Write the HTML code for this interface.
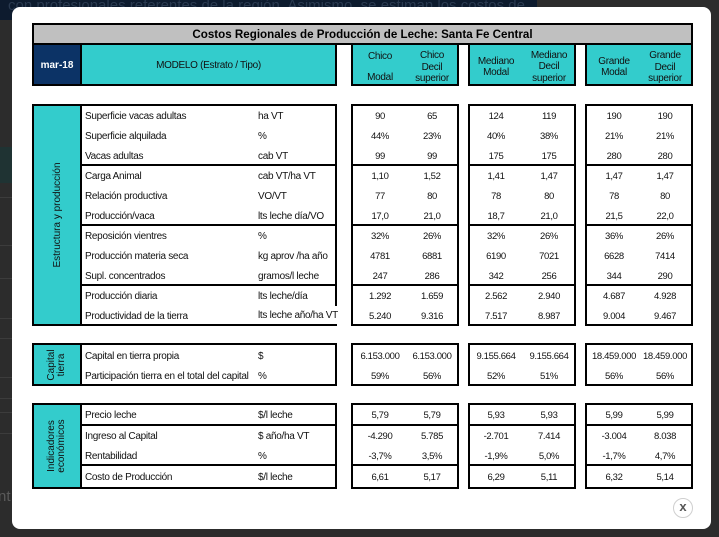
<!DOCTYPE html>
<html><head><meta charset="utf-8">
<style>
*{margin:0;padding:0;box-sizing:border-box}
html,body{width:719px;height:537px;overflow:hidden;background:#2c2c2c;position:relative;font-family:"Liberation Sans",sans-serif}
.a{position:absolute}
.box{position:absolute;border:2px solid #000}
.hl{position:absolute;height:2px;background:#000}
.vl{position:absolute;width:2px;background:#000}
.t{position:absolute;font-size:10px;letter-spacing:-0.3px;line-height:20px;white-space:nowrap;color:#111;margin-top:1px}
.n{position:absolute;font-size:9.5px;letter-spacing:-0.35px;line-height:20px;white-space:nowrap;width:60px;text-align:center;color:#111;margin-top:1px}
.c1{left:350px}.c2{left:402px}.c3{left:466px}.c4{left:519px}.c5{left:584px}.c6{left:635px}
.u{left:258px}.l{left:85px}
.h{position:absolute;font-size:10px;letter-spacing:-0.3px;line-height:11px;width:60px;text-align:center;white-space:nowrap;color:#111;margin-top:1px}
.cy{background:#33cccc}
.rot{position:absolute;display:flex;align-items:center;justify-content:center;text-align:center;transform:rotate(-90deg);font-size:10px;line-height:10px;color:#111;white-space:nowrap}
.fl{position:absolute;left:0;width:12px;height:1px;background:#3c3c3c}
</style></head><body>

<!-- background page -->
<div class="a" style="left:0;top:0;width:537px;height:20px;background:#0d1b2e;overflow:hidden">
  <div class="a" style="left:8px;top:-3px;font-size:15px;color:#2a3a50;white-space:nowrap">con profesionales referentes de la región. Asimismo, se estiman los costos de</div>
</div>
<div class="a" style="left:0;top:147px;width:12px;height:36px;background:#1f3333"></div>
<div class="fl" style="top:197px"></div>
<div class="fl" style="top:245px"></div>
<div class="fl" style="top:278px"></div>
<div class="fl" style="top:318px"></div>
<div class="fl" style="top:338px"></div>
<div class="fl" style="top:377px"></div>
<div class="fl" style="top:398px"></div>
<div class="fl" style="top:412px"></div>
<div class="fl" style="top:433px"></div>
<div class="a" style="left:-2px;top:488px;font-size:15px;color:#5a5a5a">nt</div>

<!-- modal -->
<div class="a" style="left:12px;top:7px;width:699px;height:522px;background:#fff;border-radius:8px"></div>

<!-- title -->
<div class="box" style="left:32px;top:23px;width:661px;height:22px;background:#c0c0c0"></div>
<div class="a" style="left:32px;top:26px;width:661px;line-height:18px;text-align:center;font-weight:bold;font-size:11.6px;color:#000;white-space:nowrap">Costos Regionales de Producción de Leche: Santa Fe Central</div>

<!-- header left -->
<div class="box cy" style="left:32px;top:43px;width:305px;height:43px"></div>
<div class="a" style="left:34px;top:45px;width:46px;height:39px;background:#0c3366"></div>
<div class="vl" style="left:80px;top:45px;height:39px"></div>
<div class="a" style="left:34px;top:46px;width:46px;line-height:39px;text-align:center;color:#fff;font-weight:bold;font-size:10px">mar-18</div>
<div class="a" style="left:82px;top:46px;width:253px;line-height:39px;text-align:center;font-size:10px;letter-spacing:-0.3px;color:#111">MODELO (Estrato / Tipo)</div>

<!-- header groups -->
<div class="box cy" style="left:351px;top:43px;width:108px;height:43px"></div>
<div class="box cy" style="left:468px;top:43px;width:108px;height:43px"></div>
<div class="box cy" style="left:585px;top:43px;width:108px;height:43px"></div>

<div class="h" style="left:350px;top:50px">Chico</div>
<div class="h" style="left:350px;top:70.5px">Modal</div>
<div class="h" style="left:402px;top:49px">Chico</div>
<div class="h" style="left:402px;top:60.5px">Decil</div>
<div class="h" style="left:402px;top:71.5px">superior</div>

<div class="h" style="left:466px;top:54.5px">Mediano</div>
<div class="h" style="left:466px;top:65.5px">Modal</div>
<div class="h" style="left:519px;top:48.5px">Mediano</div>
<div class="h" style="left:519px;top:60px">Decil</div>
<div class="h" style="left:519px;top:71.5px">superior</div>

<div class="h" style="left:584px;top:55px">Grande</div>
<div class="h" style="left:584px;top:65.5px">Modal</div>
<div class="h" style="left:635px;top:49px">Grande</div>
<div class="h" style="left:635px;top:60.5px">Decil</div>
<div class="h" style="left:635px;top:72px">superior</div>

<!-- SECTION 1 -->
<div class="box" style="left:32px;top:104px;width:305px;height:222px"></div>
<div class="a cy" style="left:34px;top:106px;width:46px;height:218px"></div>
<div class="vl" style="left:80px;top:106px;height:218px"></div>
<div class="hl" style="left:82px;top:164px;width:253px"></div>
<div class="hl" style="left:82px;top:224px;width:253px"></div>
<div class="hl" style="left:82px;top:284px;width:253px"></div>

<div class="box" style="left:351px;top:104px;width:108px;height:222px"></div>
<div class="box" style="left:468px;top:104px;width:108px;height:222px"></div>
<div class="box" style="left:585px;top:104px;width:108px;height:222px"></div>
<div class="hl" style="left:351px;top:164px;width:108px"></div>
<div class="hl" style="left:351px;top:224px;width:108px"></div>
<div class="hl" style="left:351px;top:284px;width:108px"></div>
<div class="hl" style="left:468px;top:164px;width:108px"></div>
<div class="hl" style="left:468px;top:224px;width:108px"></div>
<div class="hl" style="left:468px;top:284px;width:108px"></div>
<div class="hl" style="left:585px;top:164px;width:108px"></div>
<div class="hl" style="left:585px;top:224px;width:108px"></div>
<div class="hl" style="left:585px;top:284px;width:108px"></div>

<div class="rot" style="left:-51px;top:192px;width:218px;height:46px">Estructura y producción</div>

<!-- row 1 -->
<div class="t l" style="top:106px">Superficie vacas adultas</div><div class="t u" style="top:106px">ha VT</div>
<div class="n c1" style="top:106px">90</div><div class="n c2" style="top:106px">65</div><div class="n c3" style="top:106px">124</div><div class="n c4" style="top:106px">119</div><div class="n c5" style="top:106px">190</div><div class="n c6" style="top:106px">190</div>
<!-- row 2 -->
<div class="t l" style="top:126px">Superficie alquilada</div><div class="t u" style="top:126px">%</div>
<div class="n c1" style="top:126px">44%</div><div class="n c2" style="top:126px">23%</div><div class="n c3" style="top:126px">40%</div><div class="n c4" style="top:126px">38%</div><div class="n c5" style="top:126px">21%</div><div class="n c6" style="top:126px">21%</div>
<!-- row 3 -->
<div class="t l" style="top:146px">Vacas adultas</div><div class="t u" style="top:146px">cab VT</div>
<div class="n c1" style="top:146px">99</div><div class="n c2" style="top:146px">99</div><div class="n c3" style="top:146px">175</div><div class="n c4" style="top:146px">175</div><div class="n c5" style="top:146px">280</div><div class="n c6" style="top:146px">280</div>
<!-- row 4 -->
<div class="t l" style="top:166px">Carga Animal</div><div class="t u" style="top:166px">cab VT/ha VT</div>
<div class="n c1" style="top:166px">1,10</div><div class="n c2" style="top:166px">1,52</div><div class="n c3" style="top:166px">1,41</div><div class="n c4" style="top:166px">1,47</div><div class="n c5" style="top:166px">1,47</div><div class="n c6" style="top:166px">1,47</div>
<!-- row 5 -->
<div class="t l" style="top:186px">Relación productiva</div><div class="t u" style="top:186px">VO/VT</div>
<div class="n c1" style="top:186px">77</div><div class="n c2" style="top:186px">80</div><div class="n c3" style="top:186px">78</div><div class="n c4" style="top:186px">80</div><div class="n c5" style="top:186px">78</div><div class="n c6" style="top:186px">80</div>
<!-- row 6 -->
<div class="t l" style="top:206px">Producción/vaca</div><div class="t u" style="top:206px">lts leche día/VO</div>
<div class="n c1" style="top:206px">17,0</div><div class="n c2" style="top:206px">21,0</div><div class="n c3" style="top:206px">18,7</div><div class="n c4" style="top:206px">21,0</div><div class="n c5" style="top:206px">21,5</div><div class="n c6" style="top:206px">22,0</div>
<!-- row 7 -->
<div class="t l" style="top:226px">Reposición vientres</div><div class="t u" style="top:226px">%</div>
<div class="n c1" style="top:226px">32%</div><div class="n c2" style="top:226px">26%</div><div class="n c3" style="top:226px">32%</div><div class="n c4" style="top:226px">26%</div><div class="n c5" style="top:226px">36%</div><div class="n c6" style="top:226px">26%</div>
<!-- row 8 -->
<div class="t l" style="top:246px">Producción materia seca</div><div class="t u" style="top:246px">kg aprov /ha año</div>
<div class="n c1" style="top:246px">4781</div><div class="n c2" style="top:246px">6881</div><div class="n c3" style="top:246px">6190</div><div class="n c4" style="top:246px">7021</div><div class="n c5" style="top:246px">6628</div><div class="n c6" style="top:246px">7414</div>
<!-- row 9 -->
<div class="t l" style="top:266px">Supl. concentrados</div><div class="t u" style="top:266px">gramos/l leche</div>
<div class="n c1" style="top:266px">247</div><div class="n c2" style="top:266px">286</div><div class="n c3" style="top:266px">342</div><div class="n c4" style="top:266px">256</div><div class="n c5" style="top:266px">344</div><div class="n c6" style="top:266px">290</div>
<!-- row 10 -->
<div class="t l" style="top:286px">Producción diaria</div><div class="t u" style="top:286px">lts leche/día</div>
<div class="n c1" style="top:286px">1.292</div><div class="n c2" style="top:286px">1.659</div><div class="n c3" style="top:286px">2.562</div><div class="n c4" style="top:286px">2.940</div><div class="n c5" style="top:286px">4.687</div><div class="n c6" style="top:286px">4.928</div>
<!-- row 11 -->
<div class="t l" style="top:306px">Productividad de la tierra</div><div class="t u" style="top:306px;margin-top:0;line-height:18px;height:18px;padding-top:1px;background:#fff;padding-right:2px">lts leche año/ha VT</div>
<div class="n c1" style="top:306px">5.240</div><div class="n c2" style="top:306px">9.316</div><div class="n c3" style="top:306px">7.517</div><div class="n c4" style="top:306px">8.987</div><div class="n c5" style="top:306px">9.004</div><div class="n c6" style="top:306px">9.467</div>

<!-- SECTION 2 -->
<div class="box" style="left:32px;top:343px;width:305px;height:43px"></div>
<div class="a cy" style="left:34px;top:345px;width:46px;height:39px"></div>
<div class="vl" style="left:80px;top:345px;height:39px"></div>
<div class="box" style="left:351px;top:343px;width:108px;height:43px"></div>
<div class="box" style="left:468px;top:343px;width:108px;height:43px"></div>
<div class="box" style="left:585px;top:343px;width:108px;height:43px"></div>
<div class="rot" style="left:27px;top:341.5px;width:60px;height:46px">Capital<br>tierra</div>

<div class="t l" style="top:346px">Capital en tierra propia</div><div class="t u" style="top:346px">$</div>
<div class="n c1" style="top:346px">6.153.000</div><div class="n c2" style="top:346px">6.153.000</div><div class="n c3" style="top:346px">9.155.664</div><div class="n c4" style="top:346px">9.155.664</div><div class="n c5" style="top:346px">18.459.000</div><div class="n c6" style="top:346px">18.459.000</div>
<div class="t l" style="top:366px">Participación tierra en el total del capital</div><div class="t u" style="top:366px">%</div>
<div class="n c1" style="top:366px">59%</div><div class="n c2" style="top:366px">56%</div><div class="n c3" style="top:366px">52%</div><div class="n c4" style="top:366px">51%</div><div class="n c5" style="top:366px">56%</div><div class="n c6" style="top:366px">56%</div>

<!-- SECTION 3 -->
<div class="box" style="left:32px;top:403px;width:305px;height:86px"></div>
<div class="a cy" style="left:34px;top:405px;width:46px;height:82px"></div>
<div class="vl" style="left:80px;top:405px;height:82px"></div>
<div class="hl" style="left:82px;top:424px;width:253px"></div>
<div class="hl" style="left:82px;top:464px;width:253px"></div>
<div class="box" style="left:351px;top:403px;width:108px;height:86px"></div>
<div class="box" style="left:468px;top:403px;width:108px;height:86px"></div>
<div class="box" style="left:585px;top:403px;width:108px;height:86px"></div>
<div class="hl" style="left:351px;top:424px;width:108px"></div>
<div class="hl" style="left:351px;top:464px;width:108px"></div>
<div class="hl" style="left:468px;top:424px;width:108px"></div>
<div class="hl" style="left:468px;top:464px;width:108px"></div>
<div class="hl" style="left:585px;top:424px;width:108px"></div>
<div class="hl" style="left:585px;top:464px;width:108px"></div>
<div class="rot" style="left:16px;top:423px;width:82px;height:46px">Indicadores<br>económicos</div>

<div class="t l" style="top:405px">Precio leche</div><div class="t u" style="top:405px">$/l leche</div>
<div class="n c1" style="top:405px">5,79</div><div class="n c2" style="top:405px">5,79</div><div class="n c3" style="top:405px">5,93</div><div class="n c4" style="top:405px">5,93</div><div class="n c5" style="top:405px">5,99</div><div class="n c6" style="top:405px">5,99</div>
<div class="t l" style="top:426px">Ingreso al Capital</div><div class="t u" style="top:426px">$ año/ha VT</div>
<div class="n c1" style="top:426px">-4.290</div><div class="n c2" style="top:426px">5.785</div><div class="n c3" style="top:426px">-2.701</div><div class="n c4" style="top:426px">7.414</div><div class="n c5" style="top:426px">-3.004</div><div class="n c6" style="top:426px">8.038</div>
<div class="t l" style="top:446px">Rentabilidad</div><div class="t u" style="top:446px">%</div>
<div class="n c1" style="top:446px">-3,7%</div><div class="n c2" style="top:446px">3,5%</div><div class="n c3" style="top:446px">-1,9%</div><div class="n c4" style="top:446px">5,0%</div><div class="n c5" style="top:446px">-1,7%</div><div class="n c6" style="top:446px">4,7%</div>
<div class="t l" style="top:467px">Costo de Producción</div><div class="t u" style="top:467px">$/l leche</div>
<div class="n c1" style="top:467px">6,61</div><div class="n c2" style="top:467px">5,17</div><div class="n c3" style="top:467px">6,29</div><div class="n c4" style="top:467px">5,11</div><div class="n c5" style="top:467px">6,32</div><div class="n c6" style="top:467px">5,14</div>

<!-- close button -->
<div class="a" style="left:673px;top:498px;width:20px;height:20px;border:1.5px solid #cfcfcf;border-radius:50%;background:#fff;text-align:center;line-height:16px;font-size:13px;font-weight:bold;color:#555">x</div>

</body></html>
